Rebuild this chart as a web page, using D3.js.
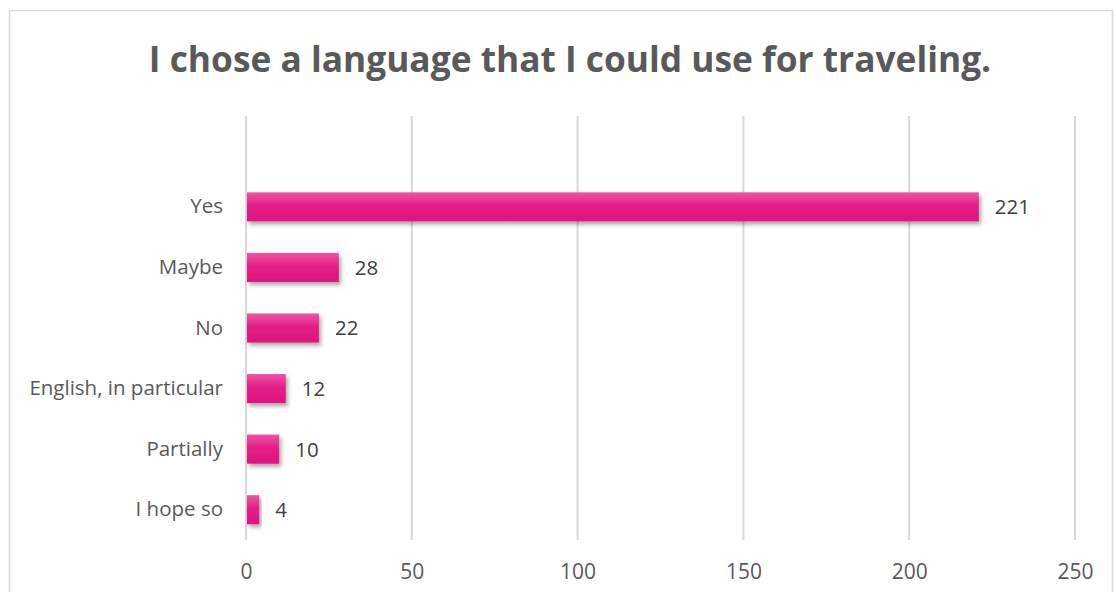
<!DOCTYPE html>
<html><head><meta charset="utf-8">
<script src="https://cdn.jsdelivr.net/npm/d3@7"></script>
<style>body{margin:0;background:#fff;} svg{display:block;}</style>
</head><body>
<svg id="c" width="1116" height="592"></svg>
<script>
const categories = ["Yes","Maybe","No","English, in particular","Partially","I hope so"];
const values = [221,28,22,12,10,4];
const tickValues = [0,50,100,150,200,250];
const title = "I chose a language that I could use for traveling.";

const svg = d3.select("#c");
const font = "'Open Sans', 'Liberation Sans', sans-serif";
const textCol = "#595959";

// frame
svg.append("rect").attr("x",9.5).attr("y",10.5).attr("width",1103).attr("height",600)
  .attr("fill","#fff").attr("stroke","#d9d9d9").attr("stroke-width",1.5);

const defs = svg.append("defs");
const g = defs.append("linearGradient").attr("id","barg").attr("x1",0).attr("y1",0).attr("x2",0).attr("y2",1);
g.append("stop").attr("offset","0%").attr("stop-color","#ee55a3");
g.append("stop").attr("offset","45%").attr("stop-color","#e41f88");
g.append("stop").attr("offset","100%").attr("stop-color","#df137e");
const f = defs.append("filter").attr("id","sh").attr("x","-10%").attr("y","-30%").attr("width","130%").attr("height","190%");
f.append("feDropShadow").attr("dx",2).attr("dy",3).attr("stdDeviation",2).attr("flood-color","#000").attr("flood-opacity",0.35);

const plotTop = 116, plotBottom = 540;
const x = d3.scaleLinear().domain([0,250]).range([246,1075]);
const step = (plotBottom-plotTop)/7;
const y = d3.scaleBand().domain(categories).range([plotTop+step, plotBottom]).paddingInner(0.52).paddingOuter(0.26);

// gridlines
svg.append("g").selectAll("line").data(tickValues).join("line")
  .attr("x1",d=>x(d)).attr("x2",d=>x(d)).attr("y1",plotTop).attr("y2",plotBottom)
  .attr("stroke","#d9d9d9").attr("stroke-width",2);

// x axis tick labels
const xAxis = d3.axisBottom(x).tickValues(tickValues).tickSize(0).tickPadding(0);
const xa = svg.append("g").attr("transform",`translate(0,0)`).call(xAxis);
xa.select(".domain").remove();
xa.selectAll("text").attr("font-family",font).attr("font-size",21).attr("fill",textCol).attr("y",579).attr("dy",0);

// y axis labels
const yAxis = d3.axisLeft(y).tickSize(0).tickPadding(0);
const ya = svg.append("g").attr("transform",`translate(${223},0)`).call(yAxis);
ya.select(".domain").remove();
ya.selectAll("text").attr("font-family",font).attr("font-size",20.5).attr("fill",textCol);

// bars
svg.append("g").selectAll("rect").data(values).join("rect")
  .attr("x",x(0)+1).attr("y",(d,i)=>y(categories[i]))
  .attr("width",d=>x(d)-x(0)-1).attr("height",y.bandwidth())
  .attr("fill","url(#barg)").attr("filter","url(#sh)");

// value labels
svg.append("g").selectAll("text").data(values).join("text")
  .attr("x",d=>x(d)+16).attr("y",(d,i)=>y(categories[i])+y.bandwidth()/2)
  .attr("dy","0.36em").attr("font-family",font).attr("font-size",20.5).attr("fill","#404040")
  .text(d=>d);

// title
svg.append("text").attr("x",570).attr("y",72).attr("text-anchor","middle")
  .attr("font-family",font).attr("font-weight","bold").attr("font-size",35.3).attr("fill",textCol)
  .text(title);
</script>
</body></html>
